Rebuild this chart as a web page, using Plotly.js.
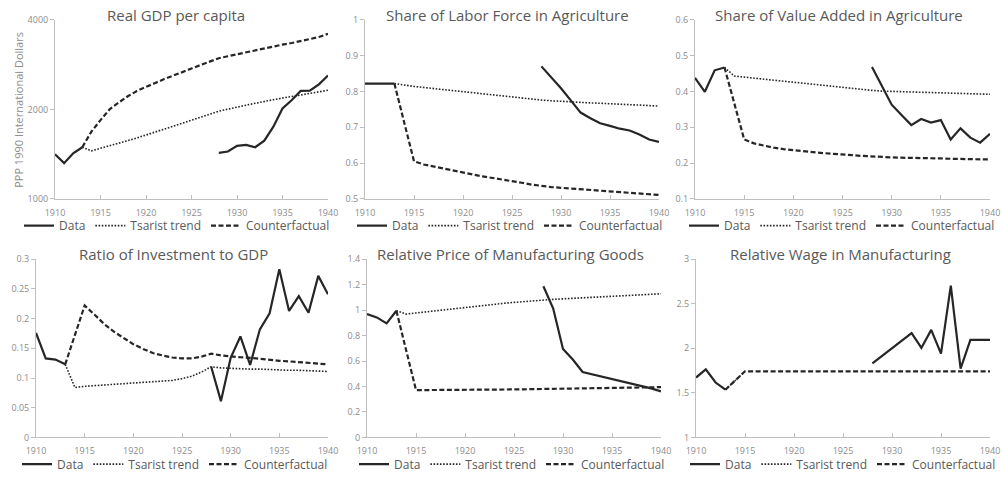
<!DOCTYPE html>
<html>
<head>
<meta charset="utf-8">
<script src="https://cdn.plot.ly/plotly-3.0.1.min.js"></script>
<style>html,body{margin:0;padding:0;background:#fff;}</style>
</head>
<body>
<div id="chart" style="width:1003px;height:479px;"></div>
<script>
// Years
const yearsAll = [1910,1911,1912,1913,1914,1915,1916,1917,1918,1919,1920,1921,1922,1923,1924,1925,1926,1927,1928,1929,1930,1931,1932,1933,1934,1935,1936,1937,1938,1939,1940];
const yearsTrend = [1913,1914,1915,1916,1917,1918,1919,1920,1921,1922,1923,1924,1925,1926,1927,1928,1929,1930,1931,1932,1933,1934,1935,1936,1937,1938,1939,1940];
const xTicks = [1910,1915,1920,1925,1930,1935,1940];

const panelTitles = ["Real GDP per capita","Share of Labor Force in Agriculture","Share of Value Added in Agriculture","Ratio of Investment to GDP","Relative Price of Manufacturing Goods","Relative Wage in Manufacturing"];
const seriesNames = ["Data","Tsarist trend","Counterfactual"];
const gdpAxisTitle = "PPP 1990 International Dollars";

// 1. Real GDP per capita
const gdpData = [1413,1319,1424,1492,null,null,null,null,null,null,null,null,null,null,null,null,null,null,1428,1443,1507,1518,1492,1570,1749,2013,2146,2306,2312,2427,2600];
const gdpTsarist = [1492,1450,1480,1507,1538,1570,1602,1639,1674,1713,1752,1793,1835,1878,1922,1972,2003,2039,2065,2096,2129,2155,2183,2205,2235,2263,2285,2318];
const gdpCounter = [1492,1683,1840,2000,2108,2213,2306,2384,2452,2528,2593,2668,2745,2816,2896,2971,3017,3065,3113,3152,3200,3250,3301,3342,3395,3447,3500,3590];
const gdpTicks = [1000,2000,4000];

// 2. Share of labor force in agriculture
const laborData = [0.822,0.822,0.822,0.822,null,null,null,null,null,null,null,null,null,null,null,null,null,null,0.870,0.840,0.809,0.775,0.741,0.725,0.711,0.704,0.696,0.691,0.680,0.666,0.659];
const laborTsarist = [0.822,0.817,0.814,0.811,0.808,0.805,0.802,0.799,0.796,0.793,0.790,0.788,0.785,0.782,0.779,0.776,0.774,0.772,0.771,0.770,0.768,0.767,0.765,0.764,0.763,0.762,0.760,0.759];
const laborCounter = [0.822,0.714,0.605,0.596,0.590,0.584,0.578,0.573,0.568,0.563,0.559,0.555,0.550,0.545,0.540,0.536,0.533,0.531,0.529,0.527,0.525,0.523,0.521,0.519,0.517,0.516,0.514,0.511];

// 3. Share of value added in agriculture
const vaData = [0.438,0.399,0.459,0.467,null,null,null,null,null,null,null,null,null,null,null,null,null,null,0.468,0.415,0.363,0.334,0.306,0.323,0.313,0.320,0.266,0.297,0.271,0.257,0.282];
const vaTsarist = [0.467,0.443,0.440,0.437,0.434,0.431,0.429,0.426,0.423,0.420,0.417,0.414,0.412,0.409,0.406,0.403,0.401,0.400,0.399,0.398,0.397,0.396,0.396,0.395,0.394,0.393,0.392,0.392];
const vaCounter = [0.467,0.366,0.266,0.255,0.248,0.243,0.239,0.236,0.232,0.230,0.228,0.226,0.225,0.222,0.220,0.218,0.217,0.216,0.215,0.215,0.214,0.213,0.213,0.212,0.212,0.211,0.211,0.210];

// 4. Ratio of investment to GDP
const invData = [0.176,0.133,0.131,0.123,null,null,null,null,null,null,null,null,null,null,null,null,null,null,0.119,0.061,0.134,0.170,0.122,0.182,0.209,0.283,0.213,0.238,0.210,0.272,0.241];
const invTsarist = [0.123,0.084,0.086,0.087,0.088,0.089,0.090,0.091,0.092,0.093,0.094,0.096,0.099,0.103,0.110,0.119,0.117,0.116,0.116,0.115,0.115,0.114,0.114,0.113,0.113,0.112,0.112,0.111];
const invCounter = [0.123,0.172,0.222,0.207,0.191,0.178,0.167,0.157,0.149,0.142,0.138,0.1345,0.133,0.133,0.136,0.141,0.138,0.136,0.135,0.134,0.132,0.131,0.129,0.128,0.127,0.126,0.125,0.123];

// 5. Relative price of manufacturing goods
const priceData = [0.969,0.943,0.896,0.995,null,null,null,null,null,null,null,null,null,null,null,null,null,null,1.188,1.013,0.695,0.612,0.514,0.496,0.478,0.457,0.439,0.420,0.400,0.385,0.362];
const priceTsarist = [0.995,0.969,0.978,0.987,0.996,1.005,1.013,1.022,1.030,1.038,1.046,1.054,1.061,1.068,1.074,1.080,1.085,1.089,1.093,1.097,1.101,1.105,1.109,1.113,1.117,1.121,1.125,1.129];
const priceCounter = [0.995,0.684,0.372,0.372,0.372,0.372,0.373,0.373,0.374,0.374,0.375,0.376,0.377,0.378,0.379,0.380,0.381,0.382,0.383,0.384,0.385,0.386,0.387,0.388,0.389,0.390,0.392,0.395];

// 6. Relative wage in manufacturing (trend hidden under the counterfactual after 1915)
const wageData = [1.672,1.764,1.616,1.535,null,null,null,null,null,null,null,null,null,null,null,null,null,null,1.830,1.915,2.000,2.085,2.170,2.004,2.207,1.941,2.705,1.771,2.096,2.096,2.096];
const wageTsarist = [1.535,1.640,1.742,null,null,null,null,null,null,null,null,null,null,null,null,null,null,null,null,null,null,null,null,null,null,null,null,null];
const wageCounter = [1.535,1.640,1.742,1.742,1.742,1.742,1.742,1.742,1.742,1.742,1.742,1.742,1.742,1.742,1.742,1.742,1.742,1.742,1.742,1.742,1.742,1.742,1.742,1.742,1.742,1.742,1.742,1.742];

const panels = [
  {data: gdpData, tsar: gdpTsarist, cf: gdpCounter},
  {data: laborData, tsar: laborTsarist, cf: laborCounter},
  {data: vaData, tsar: vaTsarist, cf: vaCounter},
  {data: invData, tsar: invTsarist, cf: invCounter},
  {data: priceData, tsar: priceTsarist, cf: priceCounter},
  {data: wageData, tsar: wageTsarist, cf: wageCounter}
];

const W = 1003, H = 479;
const px = v => v / W;
const py = v => 1 - v / H;

// plot-area pixel boxes [x0, x1, yTop, yBottom]
const boxes = [
  [55, 328, 20, 201],
  [365, 659, 20, 201],
  [695, 990, 20, 201],
  [36, 328, 262, 442],
  [367, 661, 262, 442],
  [696, 990, 262, 442]
];
const yRanges = [
  {type:'log', range:[Math.log10(1000), Math.log10(4000)], tickvals: gdpTicks},
  {range:[0.5, 1], dtick:0.1},
  {range:[0.1, 0.6], dtick:0.1},
  {range:[0, 0.3], dtick:0.05},
  {range:[0, 1.4], dtick:0.2},
  {range:[1, 3], dtick:0.5}
];
const titleX = [176, 507, 839, 173, 510, 840];
const legendX = [177, 510, 842, 175, 512, 843];

const lineColor = '#262626';
const traces = [];
const layout = {
  width: W, height: H,
  margin: {l:0, r:0, t:0, b:0},
  paper_bgcolor: '#ffffff',
  plot_bgcolor: '#ffffff',
  font: {family: 'Open Sans, Noto Sans, sans-serif', color: '#595959'},
  showlegend: true,
  annotations: []
};

panels.forEach((p, i) => {
  const n = i === 0 ? '' : String(i + 1);
  const xa = 'x' + n, ya = 'y' + n;
  const lg = 'legend' + n;
  traces.push({x: yearsAll, y: p.data, xaxis: xa, yaxis: ya, mode: 'lines', name: seriesNames[0], legend: lg,
    line: {color: lineColor, width: 2.2}, connectgaps: false, hoverinfo: 'skip'});
  traces.push({x: yearsTrend, y: p.tsar, xaxis: xa, yaxis: ya, mode: 'lines', name: seriesNames[1], legend: lg,
    line: {color: lineColor, width: 1.6, dash: '1.6px,1.6px'}, hoverinfo: 'skip'});
  traces.push({x: yearsTrend, y: p.cf, xaxis: xa, yaxis: ya, mode: 'lines', name: seriesNames[2], legend: lg,
    line: {color: lineColor, width: 2.2, dash: '5px,2.5px'}, hoverinfo: 'skip'});

  const b = boxes[i];
  layout['xaxis' + n] = {
    domain: [px(b[0]), px(b[1])], anchor: ya,
    range: [1910, 1940], tickvals: xTicks,
    showline: true, linecolor: '#bfbfbf', linewidth: 1,
    ticks: 'inside', ticklen: 4, tickcolor: '#bfbfbf',
    ticklabelstandoff: 5,
    showgrid: false, zeroline: false,
    tickfont: {size: 9, color: '#8c8c8c'}
  };
  layout['yaxis' + n] = Object.assign({
    domain: [py(b[3]), py(b[2])], anchor: xa,
    showline: true, linecolor: '#bfbfbf', linewidth: 1,
    ticks: 'outside', ticklen: 4, tickcolor: '#bfbfbf',
    showgrid: false, zeroline: false,
    tickfont: {size: 9, color: '#8c8c8c'}
  }, yRanges[i]);

  const rowLegendY = i < 3 ? 228 : 469;
  layout[lg] = {
    orientation: 'h', x: px(legendX[i]), xanchor: 'center',
    y: py(rowLegendY), yanchor: 'middle',
    font: {size: 12, color: '#595959'},
    bgcolor: 'rgba(0,0,0,0)', tracegroupgap: 0, itemwidth: 30
  };

  layout.annotations.push({
    text: panelTitles[i], xref: 'paper', yref: 'paper',
    x: px(titleX[i]), y: py(i < 3 ? 15 : 257), xanchor: 'center', yanchor: 'middle',
    showarrow: false, font: {size: 15, color: '#595959'}
  });
});

layout.annotations.push({
  text: gdpAxisTitle, xref: 'paper', yref: 'paper',
  x: px(19), y: py(111), xanchor: 'center', yanchor: 'middle', textangle: -90,
  showarrow: false, font: {size: 11, color: '#8c8c8c'}
});

Plotly.newPlot('chart', traces, layout, {staticPlot: true, displayModeBar: false});
</script>
</body>
</html>
